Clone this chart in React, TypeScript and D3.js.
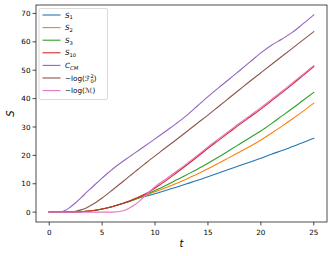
import React from "react";
import * as d3 from "d3";

const tValues = [0, 1, 1.5, 2, 2.5, 3, 3.5, 4, 5, 6, 7, 7.5, 8, 8.5, 9, 9.5, 10, 11, 12, 13, 14, 15, 16, 17, 18, 19, 20, 21, 22, 23, 24, 25];

const s1 = [0, 0, 0, 0, 0.05, 0.15, 0.3, 0.5, 1.1, 2.0, 3.1, 3.7, 4.4, 5.0, 5.5, 6.0, 6.5, 7.6, 8.8, 10.0, 11.2, 12.5, 13.8, 15.1, 16.4, 17.7, 19.0, 20.4, 21.7, 23.1, 24.5, 26.0];
const s2 = [0, 0, 0, 0, 0.05, 0.15, 0.3, 0.5, 1.1, 2.0, 3.1, 3.7, 4.4, 5.1, 5.8, 6.5, 7.2, 8.6, 10.1, 11.7, 13.4, 15.3, 17.2, 19.2, 21.2, 23.2, 25.4, 27.8, 30.3, 32.9, 35.6, 38.4];
const s3 = [0, 0, 0, 0, 0.05, 0.15, 0.3, 0.5, 1.1, 2.0, 3.1, 3.7, 4.4, 5.2, 6.0, 6.8, 7.6, 9.4, 11.3, 13.2, 15.1, 17.2, 19.4, 21.7, 24.0, 26.3, 28.6, 31.2, 33.9, 36.6, 39.4, 42.2];
const s10 = [0, 0, 0, 0, 0.05, 0.15, 0.3, 0.5, 1.1, 2.0, 3.1, 3.8, 4.6, 5.4, 6.3, 7.3, 8.5, 11.0, 13.8, 16.6, 19.5, 22.5, 25.3, 28.1, 30.9, 33.6, 36.3, 39.2, 42.1, 45.1, 48.2, 51.3];
const cCM = [0, 0.1, 0.6, 1.8, 3.3, 5.0, 6.9, 8.6, 12.0, 15.2, 18.0, 19.3, 20.6, 21.9, 23.2, 24.5, 25.8, 28.5, 31.2, 34.1, 37.4, 40.7, 43.8, 46.8, 49.9, 53.0, 56.1, 58.8, 61.0, 63.4, 66.4, 69.5];
const logF = [0, 0, 0, 0.1, 0.3, 0.8, 1.5, 2.5, 5.0, 7.9, 10.9, 12.4, 13.9, 15.4, 16.9, 18.4, 19.8, 22.7, 25.5, 28.4, 31.3, 34.2, 37.2, 40.2, 43.2, 46.2, 49.1, 52.0, 54.9, 57.8, 60.7, 63.6];
const logM = [0, 0, 0, 0, 0, 0, 0, 0, 0, 0, 0.5, 1.3, 2.4, 3.8, 5.6, 7.3, 9.0, 11.6, 14.3, 17.1, 20.0, 23.0, 25.8, 28.6, 31.4, 34.1, 36.8, 39.7, 42.6, 45.6, 48.6, 51.6];

const xTicks = [0, 5, 10, 15, 20, 25];
const yTicks = [0, 10, 20, 30, 40, 50, 60, 70];

const seriesList = [
  { key: "s1", values: s1, color: "#1f77b4" },
  { key: "s2", values: s2, color: "#ff7f0e" },
  { key: "s3", values: s3, color: "#2ca02c" },
  { key: "s10", values: s10, color: "#d62728" },
  { key: "ccm", values: cCM, color: "#9467bd" },
  { key: "logF", values: logF, color: "#8c564b" },
  { key: "logM", values: logM, color: "#e377c2" },
];

const FONT = "DejaVu Sans, sans-serif";

function LegendLabel({ k }: { k: string }) {
  const sub = { fontSize: 5.2 };
  if (k === "s1" || k === "s2" || k === "s3" || k === "s10") {
    const n = k.slice(1);
    return (
      <>
        <tspan fontStyle="italic">S</tspan>
        <tspan dy={1.8} style={sub}>{n}</tspan>
      </>
    );
  }
  if (k === "ccm") {
    return (
      <>
        <tspan fontStyle="italic">C</tspan>
        <tspan dy={1.8} style={sub} fontStyle="italic">CM</tspan>
      </>
    );
  }
  if (k === "logF") {
    return (
      <>
        <tspan>−log(</tspan>
        <tspan>ℱ</tspan>
        <tspan dy={-3} style={sub}>2</tspan>
        <tspan dx={-3.3} dy={5} style={sub}>0</tspan>
        <tspan dy={-2}>)</tspan>
      </>
    );
  }
  return (
    <>
      <tspan>−log(</tspan>
      <tspan>ℳ</tspan>
      <tspan>)</tspan>
    </>
  );
}

export default function App() {
  const W = 332, H = 256;
  const left = 36, right = 327, top = 5, bottom = 222;
  const allVals = seriesList.flatMap((s) => s.values);
  const xMin = d3.min(tValues)!, xMax = d3.max(tValues)!;
  const yMin = d3.min(allVals)!, yMax = d3.max(allVals)!;
  const xPad = (xMax - xMin) * 0.05, yPad = (yMax - yMin) * 0.05;
  const x = d3.scaleLinear().domain([xMin - xPad, xMax + xPad]).range([left, right]);
  const y = d3.scaleLinear().domain([yMin - yPad, yMax + yPad]).range([bottom, top]);
  const line = (vals: number[]) =>
    d3.line<number>().x((_, i) => x(tValues[i])).y((d) => y(d)).curve(d3.curveMonotoneX)(vals) || "";

  const legX = 39, legY = 8.5, legW = 68.5, legH = 91;
  const rowH = 12.6;

  return (
    <svg width={W} height={H} style={{ position: "absolute", left: 0, top: 0, background: "#fff" }} fontFamily={FONT}>
      <rect x={0} y={0} width={W} height={H} fill="#fff" />
      <defs>
        <clipPath id="plotclip">
          <rect x={left} y={top} width={right - left} height={bottom - top} />
        </clipPath>
      </defs>
      <g clipPath="url(#plotclip)">
        {seriesList.map((s) => (
          <path key={s.key} d={line(s.values)} fill="none" stroke={s.color} strokeWidth={1.1} strokeLinejoin="round" strokeLinecap="square" />
        ))}
      </g>
      <rect x={left} y={top} width={right - left} height={bottom - top} fill="none" stroke="#000" strokeWidth={0.7} />
      {xTicks.map((t) => (
        <g key={"x" + t}>
          <line x1={x(t)} x2={x(t)} y1={bottom} y2={bottom + 3.5} stroke="#000" strokeWidth={0.7} />
          <text x={x(t)} y={234.5} fontSize={7.2} textAnchor="middle" fill="#000">{t}</text>
        </g>
      ))}
      {yTicks.map((t) => (
        <g key={"y" + t}>
          <line x1={left - 3.5} x2={left} y1={y(t)} y2={y(t)} stroke="#000" strokeWidth={0.7} />
          <text x={30.5} y={y(t) + 2.6} fontSize={7.2} textAnchor="end" fill="#000">{t}</text>
        </g>
      ))}
      <text x={(left + right) / 2} y={247} fontSize={10} fontStyle="italic" textAnchor="middle">t</text>
      <text transform={`translate(13.5,${(top + bottom) / 2}) rotate(-90)`} fontSize={10} fontStyle="italic" textAnchor="middle">S</text>
      <rect x={legX} y={legY} width={legW} height={legH} rx={1.5} fill="#fff" fillOpacity={0.8} stroke="#ccc" strokeWidth={0.7} />
      {seriesList.map((s, i) => {
        const cy = legY + 6.5 + i * rowH;
        return (
          <g key={"leg" + s.key}>
            <line x1={legX + 3.5} x2={legX + 21.5} y1={cy} y2={cy} stroke={s.color} strokeWidth={1.1} />
            <text x={legX + 26} y={cy + 2.6} fontSize={7.2} fill="#000">
              <LegendLabel k={s.key} />
            </text>
          </g>
        );
      })}
    </svg>
  );
}
